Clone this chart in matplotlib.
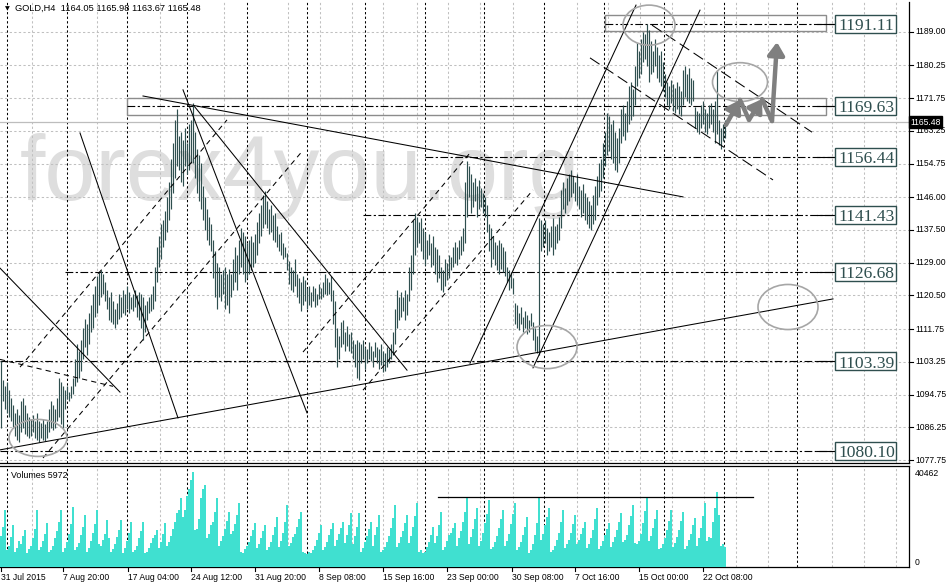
import matplotlib
matplotlib.use("Agg")
import matplotlib.pyplot as plt
import matplotlib.transforms as mtransforms
from matplotlib.patches import Ellipse, Rectangle
import numpy as np

# ---------------- data ----------------
highs = [
 1103.6, 1098.5, 1097, 1098, 1096, 1094, 1092, 1090, 1091, 1089.5,
 1093, 1094, 1092, 1090, 1089, 1088.5, 1089.5, 1088, 1090, 1088,
 1087.5, 1088.5, 1087, 1088, 1091, 1093, 1092, 1091, 1094, 1099,
 1098, 1097, 1096, 1097, 1095.5, 1097, 1099, 1104, 1108, 1106,
 1109, 1112, 1114.5, 1113, 1116, 1118, 1121, 1123, 1125.5, 1126.5,
 1127, 1126, 1124, 1122, 1120, 1121.5, 1119, 1117, 1118.5, 1121,
 1120, 1122, 1121, 1123, 1121.5, 1120, 1121, 1122, 1120.5, 1121.5,
 1121, 1120, 1118, 1119, 1120, 1121, 1123, 1128, 1133, 1136,
 1139, 1140, 1142.5, 1146, 1150, 1156, 1160, 1166, 1169, 1162,
 1163, 1161, 1164, 1160, 1165, 1166, 1170.5, 1163, 1158.5, 1157,
 1155, 1149, 1146, 1143, 1141, 1139, 1135, 1132, 1129, 1128,
 1126, 1127, 1128, 1126, 1127.5, 1126, 1130, 1133, 1131, 1135,
 1138, 1137, 1136, 1134, 1135, 1136, 1134.5, 1136.5, 1139.5, 1142,
 1144, 1146.5, 1147.5, 1145, 1143, 1144, 1141.5, 1142, 1138.5, 1136.5,
 1137, 1134, 1133, 1131.5, 1129.5, 1128, 1127, 1130, 1126, 1125,
 1124, 1125.5, 1124.5, 1122.5, 1123, 1121.5, 1123, 1122.5, 1121, 1123.5,
 1122.5, 1124, 1126, 1125, 1124, 1125.5, 1122, 1119, 1112, 1110,
 1113.5, 1114, 1111, 1112.5, 1110.5, 1111, 1109, 1108, 1109, 1108.5,
 1108, 1109, 1107, 1106.5, 1108.5, 1107.5, 1106, 1108.5, 1107, 1106.5,
 1108, 1106, 1105.5, 1107, 1106.5, 1108, 1111, 1117, 1122, 1120,
 1121.5, 1120, 1122, 1121, 1128, 1131, 1140, 1142, 1141, 1139.5,
 1140.5, 1138, 1137, 1135, 1136.5, 1134, 1136, 1133, 1132.5, 1131,
 1128, 1127, 1130, 1129, 1131, 1130.5, 1133, 1134.5, 1133, 1135,
 1136, 1138, 1150, 1155.5, 1154, 1152, 1150, 1151, 1149, 1150.5,
 1148.5, 1147, 1146, 1144, 1139, 1138, 1136, 1134.5, 1133.5, 1135,
 1134, 1133, 1132, 1128, 1127, 1126.5, 1125, 1118.5, 1118, 1116,
 1117.5, 1115, 1116.5, 1115.5, 1114, 1116, 1113.5, 1112, 1110, 1140.5,
 1140, 1139, 1140, 1138, 1137, 1138.5, 1140.5, 1138.5, 1139, 1141,
 1148, 1150, 1148.5, 1151, 1152, 1153, 1151.5, 1150, 1152, 1149,
 1148, 1149.5, 1147, 1146, 1145, 1144, 1146.5, 1149, 1151.5, 1155,
 1156, 1160, 1163, 1168, 1167, 1165, 1166, 1163, 1161.5, 1164,
 1169, 1170, 1168, 1171, 1175, 1176, 1174, 1180, 1186, 1184,
 1187, 1189, 1188.5, 1191, 1189.5, 1186.5, 1184, 1187, 1185, 1183,
 1184, 1181, 1178, 1176, 1175, 1176.5, 1175.5, 1174.5, 1176, 1175,
 1173.5, 1179, 1180, 1178, 1179.5, 1177, 1176.5, 1169.5, 1168.5, 1168,
 1170, 1171, 1169, 1168, 1170, 1170.5, 1169, 1171, 1179, 1166,
 1164, 1165, 1166,
]
lows = [
 1086, 1093, 1091, 1090, 1089, 1088, 1086, 1084, 1083, 1082.5,
 1085, 1086, 1084.5, 1084, 1083.5, 1084, 1085, 1083.5, 1083, 1082.5,
 1083.5, 1083, 1082.8, 1083.5, 1085, 1086, 1085.5, 1086, 1088, 1089,
 1087, 1086, 1091, 1093.5, 1093, 1094, 1095, 1097, 1098, 1099,
 1101, 1104, 1107, 1105, 1108, 1111, 1112, 1115, 1116, 1118,
 1120, 1121, 1119, 1117, 1114, 1113.5, 1113, 1112, 1113, 1114.5,
 1115, 1116, 1115.5, 1117, 1116, 1117, 1116.5, 1117.5, 1115, 1114,
 1112, 1109, 1111, 1114, 1116, 1116.5, 1117, 1119, 1124, 1128,
 1130, 1133, 1135, 1137, 1140, 1143, 1147, 1151, 1154, 1153,
 1150, 1149, 1154, 1152, 1153, 1155, 1155, 1151, 1147, 1145,
 1143, 1140, 1137.5, 1135, 1133.5, 1132, 1125, 1120, 1117, 1120,
 1119, 1121, 1117, 1118, 1116, 1120, 1122, 1124, 1122, 1126,
 1128, 1126, 1124, 1125, 1126, 1127, 1128, 1129, 1131, 1134,
 1136, 1138, 1139, 1138, 1136.5, 1137, 1135, 1134.5, 1133, 1132,
 1131, 1130, 1130.5, 1127, 1123.5, 1122, 1121.5, 1123, 1120, 1118.5,
 1116.5, 1118, 1119, 1117, 1118, 1117.5, 1119, 1117.5, 1118, 1119.5,
 1119.5, 1120, 1121, 1120.5, 1121, 1119, 1113, 1107, 1102, 1104,
 1107, 1108, 1106, 1107.5, 1106, 1105.5, 1104, 1102, 1099, 1098.5,
 1103, 1104, 1101.5, 1103, 1104, 1103.5, 1102, 1104.5, 1103, 1101.5,
 1102.5, 1100.5, 1101, 1102, 1103, 1104, 1105, 1108, 1112, 1114,
 1115, 1116.5, 1114, 1115.5, 1119, 1122, 1126, 1131, 1133, 1134,
 1132, 1130, 1128.5, 1130, 1131, 1128, 1128.5, 1126, 1124, 1125,
 1122, 1121.5, 1123, 1124.5, 1125, 1127, 1128, 1129, 1128.5, 1130,
 1131, 1132, 1134, 1141, 1146, 1142, 1143.5, 1145, 1141, 1143,
 1143.5, 1142, 1141, 1137, 1132, 1128, 1130, 1128.5, 1127, 1126,
 1127.5, 1126.5, 1125.5, 1124, 1122, 1122.5, 1121, 1113, 1112, 1111.5,
 1113, 1111, 1112, 1110.5, 1111, 1112.5, 1109, 1106, 1105.5, 1105,
 1132, 1133, 1134, 1131, 1132, 1133, 1131, 1132.5, 1134, 1135,
 1138, 1143, 1142, 1144, 1145, 1146, 1147, 1145, 1144, 1143,
 1141, 1142, 1140, 1139, 1138, 1137.5, 1139, 1140, 1144, 1146,
 1147.5, 1151, 1154, 1157, 1158, 1156, 1155, 1153, 1152.5, 1155,
 1160, 1162, 1161, 1163, 1165, 1166, 1167, 1170, 1175, 1177,
 1178, 1181, 1182, 1180, 1176, 1178, 1178.5, 1180, 1177, 1176,
 1175, 1173.5, 1172, 1170, 1169, 1170.5, 1168.5, 1168, 1169, 1167.5,
 1167, 1170, 1172, 1171, 1170.5, 1170, 1171, 1164, 1163, 1162.5,
 1164, 1165, 1163, 1162.5, 1164, 1165, 1163, 1160, 1162.5, 1159.5,
 1158.5, 1160.5, 1161.5,
]
volumes = [
 13000, 17000, 24000,
 7000, 9000, 12500, 17700,
 6500, 8000, 11000, 9500, 13000, 15600,
 6000, 7500, 9000, 12000, 16000, 24000,
 7000, 8500, 11000, 14000, 18500,
 6200, 7000, 9000, 12000, 15000, 19000, 24000,
 6500, 8000, 10500, 14000, 18000, 25300,
 7000, 8500, 10000, 13500, 17000, 21900,
 6500, 8000, 11000, 14500, 18000, 24000,
 9500, 9000, 11500, 14000, 19800, 12000,
 6300, 7500, 9500, 12500, 15500, 19800,
 6000, 8000, 11000, 14500, 19000,
 6500, 7000, 9000, 12000, 15000, 19000,
 6000, 6500, 8000, 10000, 12000, 13500, 15600,
 8000, 10500, 14000, 18500,
 9000, 10500, 13000, 16000, 19000, 22700,
 24000, 29000,
 21000, 24000, 30000, 33000, 36500, 40000,
 15500, 16000, 20000, 29000, 33000, 34500,
 12000, 14000, 17500, 19000, 23000, 29000,
 9000, 11000, 13000, 16000, 19500, 23200,
 14000, 15000, 18000, 22000, 26900,
 6500, 6000, 7500, 9000, 10500, 13000, 15500, 18500,
 8000, 9500, 12000, 15000, 17700,
 7000, 8500, 10500, 13500, 17000, 21000,
 8500, 11000, 14500, 19000, 26100,
 9000, 10000, 12500, 14000, 17000, 20000, 23200,
 6500, 6000, 5500, 6500, 6000, 7000, 9000, 11500, 14500, 17700,
 7000, 8500, 10500, 13500, 16000, 18500,
 9000, 11500, 14000, 16500, 19000,
 10000, 13500, 17500, 22700,
 9500, 13000, 17000, 22700,
 6500, 8000, 10500, 13000, 16000, 19000,
 9000, 13500, 17000, 21900,
 6500, 7000, 8500, 10500, 13000, 16500, 20500, 26100,
 8500, 10000, 12500, 15000, 18500, 21900,
 10000, 13000, 17000, 21500, 26900,
 6500, 7000, 6000, 6500, 8500, 10500, 13500, 16800,
 10000, 13000, 17500, 23200,
 7000, 8500, 11000, 13500, 14500, 16500, 18500,
 9000, 12000, 15000, 19000, 23000, 29000,
 9500, 12500, 16000, 20000, 24800,
 9000, 11000, 14500, 18500, 22500, 28200,
 7500, 8500, 10500, 13000, 16500, 20000, 24000,
 9000, 11000, 14000, 18000, 22500, 26900,
 7000, 8500, 10500, 13500, 17000, 21000,
 6000, 7000, 9500, 13500, 18500, 29500,
 11500, 14000, 17500, 21000, 24800,
 6500, 7000, 9000, 11500, 14500, 19000, 24000,
 8000, 9500, 11500, 14500, 18000, 21900,
 9500, 11500, 14000, 16500, 19000,
 8000, 9500, 12000, 15500, 20000, 24800,
 7500, 9000, 11000, 13500, 16000, 18500,
 8500, 10500, 12500, 15500, 19000, 22700,
 10500, 11500, 13500, 17500, 21500, 26100,
 10000, 9500, 11000, 14000, 18500, 23500, 29000,
 11000, 13000, 16500, 20000, 24000,
 7500, 8000, 9500, 12000, 15500, 19500, 24000,
 8500, 10000, 12500, 15500, 19500, 23200,
 7500, 9000, 11500, 14000, 17500, 20600,
 9000, 12000, 16500, 21500, 26900,
 11000, 12500, 12000, 19000, 25000, 31600,
 22000, 9000, 9500, 8500,
]

date_labels = ["31 Jul 2015", "7 Aug 20:00", "17 Aug 04:00", "24 Aug 12:00",
               "31 Aug 20:00", "8 Sep 08:00", "15 Sep 16:00", "23 Sep 00:00",
               "30 Sep 08:00", "7 Oct 16:00", "15 Oct 00:00", "22 Oct 08:00"]
date_label_bars = [0, 31, 63.5, 95, 127, 159, 191, 223, 255.5, 287, 319, 351]

price_ticks = [1189.00, 1180.25, 1171.75, 1163.25, 1154.75, 1146.00, 1137.50,
               1129.00, 1120.50, 1111.75, 1103.25, 1094.75, 1086.25, 1077.75]

levels = [1191.11, 1169.63, 1156.44, 1141.43, 1126.68, 1103.39, 1080.10]
level_starts = [302, 63, 212, 181, 32, -0.5, -0.5]

ohlc_header = [1164.05, 1165.98, 1163.67, 1165.48]
last_price = 1165.48
vol_max_label = 40462
vol_current = 5972
vol_ref_level = 29470

week_separators = [3, 33, 63, 93, 123, 153, 182, 212, 241.5, 271.5, 301.5, 331.5, 361.5, 398]
grid_bars = [15.5, 48, 79.5, 111.5, 143.5, 159.5, 175.5, 191, 208, 223.5, 239.5, 256,
             288, 303.5, 319.5, 335.5, 351.5, 367.5, 383.5, 415.5, 431.5, 447.5]

solid_lines = [
    ((-0.5, 1080.4), (416, 1119.6)),
    ((71, 1172.3), (341, 1146.1)),
    ((91, 1173.9), (153, 1090.0)),
    ((97, 1169.4), (203, 1101.1)),
    ((39.5, 1162.7), (88.5, 1088.7)),
    ((-0.5, 1127.6), (59.5, 1095.4)),
    ((234.5, 1102.9), (317.5, 1195.9)),
    ((266, 1101.7), (349.5, 1194.6)),
]
dashed_lines = [
    ((9.5, 1101.9), (113, 1166.1)),
    ((21, 1078.3), (151, 1158.2)),
    ((151, 1105.8), (234.5, 1157.5)),
    ((181, 1095.9), (266, 1147.9)),
    ((-0.5, 1103.9), (56, 1096.9)),
]
long_dash_lines = [
    ((294.5, 1182.2), (386, 1150.5)),
    ((325.5, 1190.7), (405.5, 1162.9)),
]
ellipses = [  # centre bar, centre price, width bars, height price
    (18.5, 1083.5, 29, 9.6),
    (273, 1107.1, 30, 11.2),
    (324, 1190.7, 26, 10.4),
    (369.5, 1175.9, 27.5, 10.1),
    (393.5, 1117.5, 30, 11.7),
]
zones = [  # start bar, end bar, low, high
    (302, 412.5, 1189.2, 1193.3),
    (63, 412.5, 1167.4, 1171.8),
]
forecast_path = [(362.5, 1164.8), (369.5, 1171.3), (374, 1166.1),
                 (380.5, 1171.5), (385.5, 1165.8), (388, 1186.3)]

# ---------------- layout ----------------
W, H = 948, 586
fig = plt.figure(figsize=(W / 100, H / 100), dpi=100)
fig.patch.set_facecolor("white")

def fy(py):
    return 1 - py / H

X0, X1 = -0.5, 454.0
Y0, Y1 = 1076.99, 1196.71
PY = (Y1 - Y0) / 461.0

ax = fig.add_axes([0, fy(463), 909 / W, 461 / H])
axv = fig.add_axes([0, fy(567), 909 / W, 101 / H])
VTOP = 101 * 421.0

for a in (ax, axv):
    a.set_xlim(X0, X1)
    a.set_xticks([])
    a.set_yticks([])
    for s in ("left", "top"):
        a.spines[s].set_visible(False)
    for s in ("right", "bottom"):
        a.spines[s].set_color("black")
        a.spines[s].set_linewidth(0.9)
ax.set_ylim(Y0, Y1)
axv.set_ylim(0, VTOP)
axv.spines["top"].set_visible(True)
axv.spines["top"].set_color("black")
axv.spines["top"].set_linewidth(0.9)

SLATE = "#2F4F4F"
GRID = "#C0C0C0"
grid_dash = (0, (2.2, 2.2))

# watermark
ax.text(9.5, 1145.3, "forex4you.org", fontsize=66, family="Liberation Sans",
        color="#DEDEDE", va="baseline", ha="left", zorder=0.5)

# grid
for p in price_ticks:
    ax.axhline(p, color=GRID, lw=0.75, ls=grid_dash, zorder=1)
for gb in grid_bars:
    for a in (ax, axv):
        a.axvline(gb, color=GRID, lw=0.75, ls=grid_dash, zorder=1)
for sb in week_separators:
    for a in (ax, axv):
        a.axvline(sb, color="black", lw=0.75, ls=(0, (2.2, 2.2)), zorder=1.5)

# last price line
ax.axhline(last_price, color="#BDBDBD", lw=0.9, zorder=1.6)

# zones
for (xa, xb, lo, hi) in zones:
    ax.add_patch(Rectangle((xa, lo), xb - xa, hi - lo, fill=False,
                           ec="#8C8C8C", lw=1.0, zorder=2))

# level lines and their labels
for lv, st in zip(levels, level_starts):
    ax.plot([st, 417], [lv, lv], color="black", lw=0.8,
            ls=(0, (7, 2.2, 2, 2.2)), zorder=2.2)
    ax.plot([408, 417], [lv, lv], color="black", lw=0.8, zorder=2.2)
    ax.add_patch(Rectangle((417, lv - 9 * PY), 30.5, 18 * PY, fc="white",
                           ec=SLATE, lw=1.0, zorder=6))
    ax.text(418.5, lv - 6.2 * PY, f"{lv:.2f}", fontsize=12.6,
            family="Liberation Serif", color=SLATE, va="baseline",
            ha="left", zorder=7)

# price bars
idx = np.arange(min(len(highs), len(lows)))
ax.vlines(idx, np.array(lows[:len(idx)]), np.array(highs[:len(idx)]),
          colors=SLATE, lw=0.85, zorder=3)

# trend lines
for (a0, a1) in solid_lines:
    ax.plot([a0[0], a1[0]], [a0[1], a1[1]], color="black", lw=0.75, zorder=4)
for (a0, a1) in dashed_lines:
    ax.plot([a0[0], a1[0]], [a0[1], a1[1]], color="black", lw=0.75,
            ls=(0, (5, 4)), zorder=4)
for (a0, a1) in long_dash_lines:
    ax.plot([a0[0], a1[0]], [a0[1], a1[1]], color="black", lw=0.75,
            ls=(0, (11, 5)), zorder=4)

# ellipses
for (cx, cy, ew, eh) in ellipses:
    ax.add_patch(Ellipse((cx, cy), ew, eh, fill=False, ec="#A6A6A6",
                         lw=1.2, zorder=4.5))

# forecast arrows
ARROW = "#7F7F7F"
for k in range(len(forecast_path) - 1):
    (xa, ya), (xb, yb) = forecast_path[k], forecast_path[k + 1]
    if yb > ya:
        ax.annotate("", xy=(xb, yb), xytext=(xa, ya), zorder=5,
                    arrowprops=dict(arrowstyle="-|>,head_length=0.75,head_width=0.5",
                                    color=ARROW, lw=3.2, shrinkA=0, shrinkB=0))
    else:
        ax.plot([xa, xb], [ya, yb], color=ARROW, lw=3.2,
                solid_capstyle="round", zorder=5)

# right price axis
blend = mtransforms.blended_transform_factory(ax.transAxes, ax.transData)
for p in price_ticks:
    ax.plot([1.0, 1.0045], [p, p], transform=blend, color="black", lw=0.8,
            clip_on=False)
    ax.text(1.0065, p, f"{p:.2f}", transform=blend, fontsize=6.2,
            family="Liberation Sans", va="center", ha="left", clip_on=False)
ax.text(1.0012, last_price, f"{last_price:.2f}", transform=blend, fontsize=6.2,
        family="Liberation Sans", color="white", va="center", ha="left",
        clip_on=False, zorder=8,
        bbox=dict(boxstyle="square,pad=0.18", fc="black", ec="black"))

# volumes
vidx = np.arange(len(volumes))
axv.bar(vidx, volumes, width=1.0, color="#40E0D0", lw=0, zorder=3)
axv.plot([218.5, 376], [vol_ref_level, vol_ref_level], color="black", lw=0.9, zorder=4)
vblend = mtransforms.blended_transform_factory(axv.transAxes, axv.transData)
axv.text(1.0065, vol_max_label - 1300, str(vol_max_label), transform=vblend,
         fontsize=6.2, family="Liberation Sans", va="center", ha="left", clip_on=False)
axv.text(1.0065, 2100, "0", transform=vblend, fontsize=6.2,
         family="Liberation Sans", va="center", ha="left", clip_on=False)
axv.text(5, VTOP - 9 * 421, f"Volumes {vol_current}", fontsize=6.4,
         family="Liberation Sans", va="center", ha="left", zorder=6)

# time axis labels
for b, lab in zip(date_label_bars, date_labels):
    axv.plot([b, b], [0, -4 * 421], color="black", lw=0.8, clip_on=False)
    axv.text(b, -10 * 421, lab, fontsize=6.2, family="Liberation Sans",
             va="center", ha="left", clip_on=False)

# header
fig.text(5 / W, fy(8.5), "\u25BC", fontsize=4.5, family="DejaVu Sans",
         va="center", ha="left")
fig.text(15 / W, fy(8), "GOLD,H4  " + " ".join(f"{v:.2f}" for v in ohlc_header),
         fontsize=6.7, family="Liberation Sans", va="center", ha="left")

fig.savefig("out.png", dpi=100, facecolor="white")
